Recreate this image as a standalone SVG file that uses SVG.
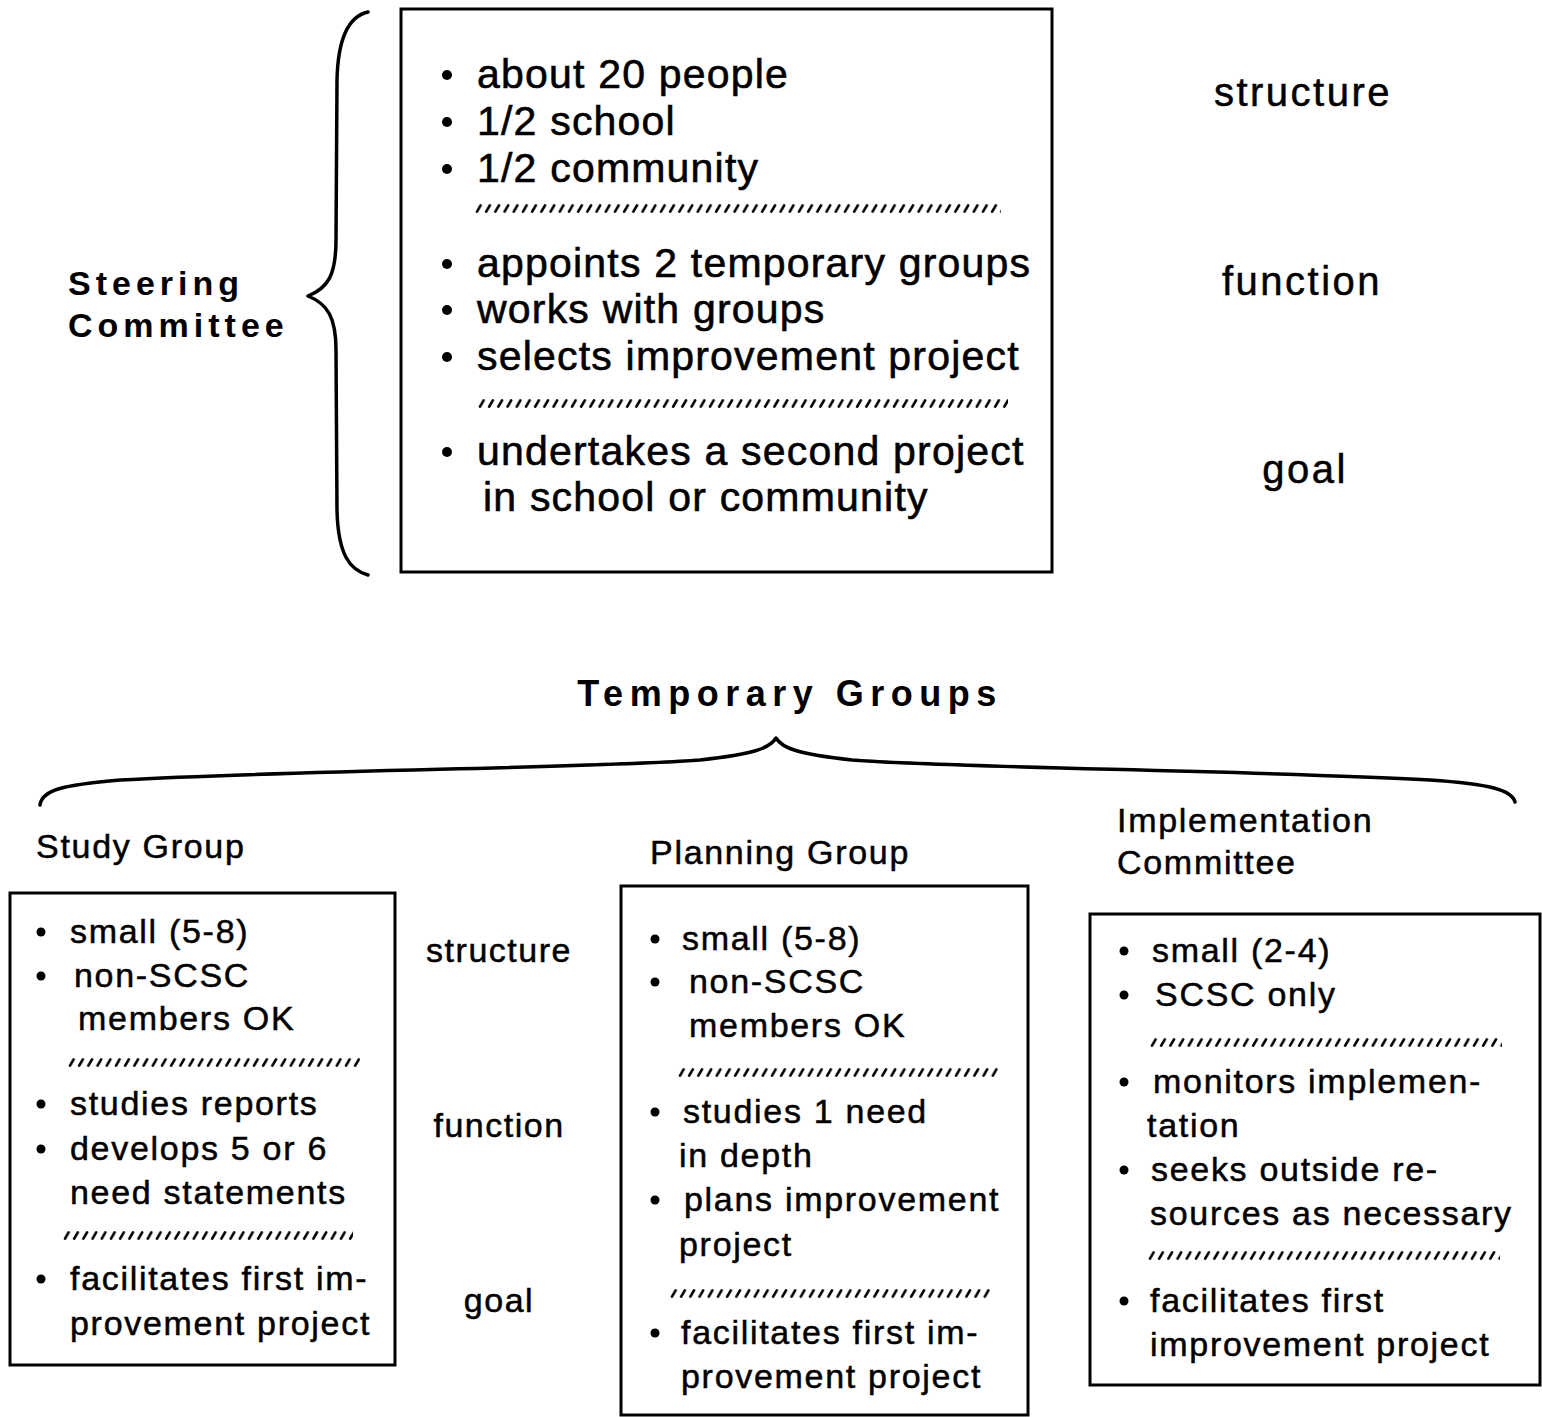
<svg xmlns="http://www.w3.org/2000/svg" width="1542" height="1417" viewBox="0 0 1542 1417">
<style>
.box{fill:none;stroke:#000;stroke-width:3}
.brace{fill:none;stroke:#000;stroke-width:3.5;stroke-linecap:round;stroke-linejoin:round}
.t1{font-family:"Liberation Sans",Arial,sans-serif;font-size:41px;letter-spacing:1.2px;fill:#000;stroke:#000;stroke-width:0.6}
.lab1{font-family:"Liberation Sans",Arial,sans-serif;font-size:40px;letter-spacing:2.5px;fill:#000;stroke:#000;stroke-width:0.5;text-anchor:middle}
.t2{font-family:"Liberation Sans",Arial,sans-serif;font-size:34px;letter-spacing:1.7px;fill:#000;stroke:#000;stroke-width:0.5}
.lab2{font-family:"Liberation Sans",Arial,sans-serif;font-size:34px;letter-spacing:1.5px;fill:#000;stroke:#000;stroke-width:0.5;text-anchor:middle}
.hd{font-family:"Liberation Sans",Arial,sans-serif;font-weight:bold;fill:#000}
.dot{fill:#000}
</style>
<defs>
<pattern id="dash" patternUnits="userSpaceOnUse" width="9.2" height="9">
<line x1="2" y1="7.6" x2="5.6" y2="1.4" stroke="#000" stroke-width="2.6" stroke-linecap="round"/>
</pattern>
</defs>

<g id="steering-label">
<text class="hd" x="68" y="295" font-size="34" letter-spacing="5">Steering</text>
<text class="hd" x="68" y="337" font-size="34" letter-spacing="5">Committee</text>
</g>

<g id="connectors">
<path class="brace" d="M368,12 C350,16 338,35 337,80 L336,240 C336,275 328,288 308,296 C328,304 336,318 336,350 L337,510 C338,555 350,570 368,575"/>
<path class="brace" stroke-width="4" d="M40,805 C42,790 62,785 120,780 C300,770 600,768 700,760 C755,754 770,748 776,738 C782,748 797,754 852,760 C950,768 1250,770 1430,780 C1490,784 1512,790 1515,802"/>
</g>

<g id="steering-box">
<rect class="box" x="401" y="9" width="651" height="563"/>
<circle class="dot" cx="447" cy="75" r="5"/>
<text class="t1" x="477" y="88">about 20 people</text>
<circle class="dot" cx="447" cy="122" r="5"/>
<text class="t1" x="477" y="135">1/2 school</text>
<circle class="dot" cx="447" cy="169" r="5"/>
<text class="t1" x="477" y="182">1/2 community</text>
<rect transform="translate(475,204)" width="526" height="9" fill="url(#dash)"/>
<circle class="dot" cx="447" cy="264" r="5"/>
<text class="t1" x="477" y="277">appoints 2 temporary groups</text>
<circle class="dot" cx="447" cy="310" r="5"/>
<text class="t1" x="477" y="323">works with groups</text>
<circle class="dot" cx="447" cy="357" r="5"/>
<text class="t1" x="477" y="370">selects improvement project</text>
<rect transform="translate(478,399)" width="530" height="9" fill="url(#dash)"/>
<circle class="dot" cx="447" cy="452" r="5"/>
<text class="t1" x="477" y="465">undertakes a second project</text>
<text class="t1" x="483" y="511">in school or community</text>
</g>

<g id="steering-aspects">
<text class="lab1" x="1303" y="106">structure</text>
<text class="lab1" x="1302" y="295">function</text>
<text class="lab1" x="1305" y="483">goal</text>
</g>

<g id="temporary-groups-title">
<text class="hd" x="790" y="706" font-size="36" letter-spacing="6.5" text-anchor="middle">Temporary  Groups</text>
</g>

<g id="study-group">
<text class="t2" x="36" y="858" letter-spacing="2.3">Study Group</text>
<rect class="box" x="10" y="893" width="385" height="472"/>
<circle class="dot" cx="41" cy="932" r="4.5"/>
<text class="t2" x="70" y="943">small (5-8)</text>
<circle class="dot" cx="41" cy="976" r="4.5"/>
<text class="t2" x="74" y="987">non-SCSC</text>
<text class="t2" x="78" y="1030">members OK</text>
<rect transform="translate(68,1058)" width="292" height="9" fill="url(#dash)"/>
<circle class="dot" cx="41" cy="1104" r="4.5"/>
<text class="t2" x="70" y="1115">studies reports</text>
<circle class="dot" cx="41" cy="1149" r="4.5"/>
<text class="t2" x="70" y="1160">develops 5 or 6</text>
<text class="t2" x="70" y="1204">need statements</text>
<rect transform="translate(63,1231)" width="290" height="9" fill="url(#dash)"/>
<circle class="dot" cx="41" cy="1279" r="4.5"/>
<text class="t2" x="70" y="1290">facilitates first im-</text>
<text class="t2" x="70" y="1335">provement project</text>
</g>

<g id="group-aspects">
<text class="lab2" x="499" y="962">structure</text>
<text class="lab2" x="499" y="1137">function</text>
<text class="lab2" x="499" y="1312">goal</text>
</g>

<g id="planning-group">
<text class="t2" x="650" y="864" letter-spacing="2.3">Planning Group</text>
<rect class="box" x="621" y="886" width="407" height="529"/>
<circle class="dot" cx="655" cy="939" r="4.5"/>
<text class="t2" x="682" y="950">small (5-8)</text>
<circle class="dot" cx="655" cy="982" r="4.5"/>
<text class="t2" x="689" y="993">non-SCSC</text>
<text class="t2" x="689" y="1037">members OK</text>
<rect transform="translate(678,1068)" width="320" height="9" fill="url(#dash)"/>
<circle class="dot" cx="655" cy="1112" r="4.5"/>
<text class="t2" x="683" y="1123">studies 1 need</text>
<text class="t2" x="679" y="1167">in depth</text>
<circle class="dot" cx="655" cy="1200" r="4.5"/>
<text class="t2" x="684" y="1211">plans improvement</text>
<text class="t2" x="679" y="1256">project</text>
<rect transform="translate(670,1289)" width="320" height="9" fill="url(#dash)"/>
<circle class="dot" cx="655" cy="1333" r="4.5"/>
<text class="t2" x="681" y="1344">facilitates first im-</text>
<text class="t2" x="681" y="1388">provement project</text>
</g>

<g id="implementation-committee">
<text class="t2" x="1117" y="832" letter-spacing="2.3">Implementation</text>
<text class="t2" x="1117" y="874" letter-spacing="2.3">Committee</text>
<rect class="box" x="1090" y="914" width="450" height="471"/>
<circle class="dot" cx="1124" cy="951" r="4.5"/>
<text class="t2" x="1152" y="962">small (2-4)</text>
<circle class="dot" cx="1124" cy="995" r="4.5"/>
<text class="t2" x="1155" y="1006">SCSC only</text>
<rect transform="translate(1150,1038)" width="352" height="9" fill="url(#dash)"/>
<circle class="dot" cx="1124" cy="1082" r="4.5"/>
<text class="t2" x="1153" y="1093">monitors implemen-</text>
<text class="t2" x="1147" y="1137">tation</text>
<circle class="dot" cx="1124" cy="1170" r="4.5"/>
<text class="t2" x="1151" y="1181">seeks outside re-</text>
<text class="t2" x="1150" y="1225">sources as necessary</text>
<rect transform="translate(1148,1251)" width="352" height="9" fill="url(#dash)"/>
<circle class="dot" cx="1124" cy="1301" r="4.5"/>
<text class="t2" x="1150" y="1312">facilitates first</text>
<text class="t2" x="1150" y="1356">improvement project</text>
</g>
</svg>
